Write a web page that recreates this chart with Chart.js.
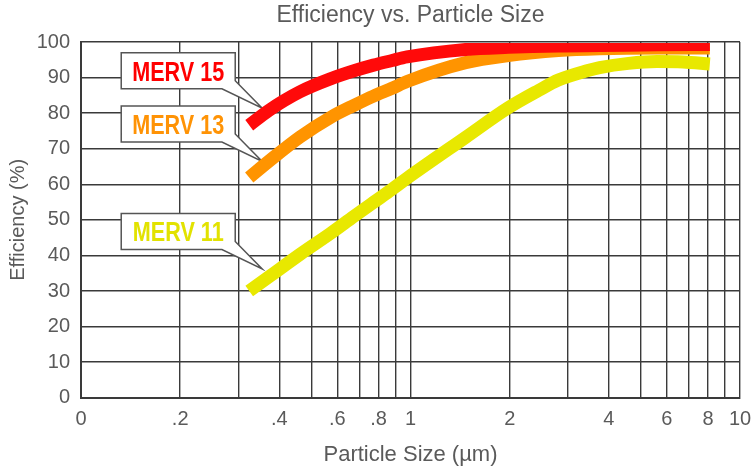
<!DOCTYPE html>
<html>
<head>
<meta charset="utf-8">
<script src="https://cdn.jsdelivr.net/npm/chart.js@4.4.1/dist/chart.umd.min.js"></script>
<style>
  html, body { margin: 0; padding: 0; background: #ffffff; }
  #wrap { width: 753px; height: 470px; position: relative; }
</style>
</head>
<body>
<div id="wrap"><canvas id="chart" width="753" height="470"></canvas></div>
<script>
// ---- data ----
const chartTitle = 'Efficiency vs. Particle Size';
const xAxisTitle = 'Particle Size (µm)';
const yAxisTitle = 'Efficiency (%)';
const seriesNames = ['MERV 15', 'MERV 13', 'MERV 11'];

const sizesMerv15 = [0.324, 0.372, 0.462, 0.574, 0.674, 0.772, 0.879, 0.976, 1.47, 1.98, 2.81, 3.75, 5.6, 8.1];
const effMerv15   = [76.6, 80.8, 86.0, 89.7, 91.9, 93.5, 94.8, 95.8, 97.9, 98.5, 98.9, 99.0, 99.2, 99.3];

const sizesMerv13 = [0.324, 0.372, 0.462, 0.574, 0.674, 0.772, 0.879, 0.976, 1.47, 1.98, 2.81, 3.75, 5.6, 8.1];
const effMerv13   = [61.9, 66.5, 73.3, 78.9, 82.2, 84.8, 87.0, 88.9, 94.2, 96.2, 97.6, 98.1, 98.3, 98.3];

const sizesMerv11 = [0.324, 0.372, 0.462, 0.574, 0.674, 0.772, 0.879, 0.976, 1.47, 1.98, 2.45, 2.81, 3.43, 3.75, 4.59, 5.6, 6.71, 8.1];
const effMerv11   = [30.0, 34.0, 40.3, 46.3, 51.0, 54.9, 58.6, 61.7, 73.2, 81.5, 86.4, 89.3, 91.9, 92.8, 94.0, 94.5, 94.4, 93.8];

const xTickValues = [0.1, 0.2, 0.3, 0.4, 0.5, 0.6, 0.7, 0.8, 0.9, 1, 2, 3, 4, 5, 6, 7, 8, 9, 10];
const xTickLabels = ['0', '.2', '', '.4', '', '.6', '', '.8', '', '1', '2', '', '4', '', '6', '', '8', '', '10'];
const yTickValues = [0, 10, 20, 30, 40, 50, 60, 70, 80, 90, 100];

// ---- styles ----
const lineColors = ['#ff0a0a', '#ff9400', '#e8e800'];
const labelColors = ['#ff0000', '#ff9305', '#e2e200'];
const textGray = '#5a5a5a';
const gridColor = '#3a3a3a';
const FONT = '"Liberation Sans", Arial, Helvetica, sans-serif';

function toPoints(xs, ys) { return xs.map((x, i) => ({ x: x, y: ys[i] })); }

const seriesData = [
  toPoints(sizesMerv15, effMerv15),
  toPoints(sizesMerv13, effMerv13),
  toPoints(sizesMerv11, effMerv11)
];

// callout boxes (offsets relative to the start of each curve)
const callouts = [
  { series: 0, dx: 13, dy: -17 },
  { series: 1, dx: 13, dy: -16 },
  { series: 2, dx: 13, dy: -22 }
];

const calloutPlugin = {
  id: 'callouts',
  beforeDatasetsDraw(chart) {
    const ctx = chart.ctx;
    callouts.forEach(c => {
      const meta = chart.getDatasetMeta(c.series);
      const p0 = meta.data[0];
      const tipX = p0.x + c.dx, tipY = p0.y + c.dy;
      const right = tipX - 27, left = right - 114;
      const bottom = tipY - 19.5, top = bottom - 36;
      ctx.save();
      ctx.beginPath();
      ctx.moveTo(left, top);
      ctx.lineTo(right, top);
      ctx.lineTo(right, bottom - 8);
      ctx.lineTo(tipX, tipY);
      ctx.lineTo(right - 13.3, bottom);
      ctx.lineTo(left, bottom);
      ctx.closePath();
      ctx.fillStyle = '#ffffff';
      ctx.fill();
      ctx.lineWidth = 1.5;
      ctx.strokeStyle = '#555555';
      ctx.lineJoin = 'miter';
      ctx.stroke();
      ctx.translate((left + right) / 2, (top + bottom) / 2 + 10);
      ctx.scale(0.8, 1);
      ctx.font = 'bold 27px ' + FONT;
      ctx.textAlign = 'center';
      ctx.textBaseline = 'alphabetic';
      ctx.fillStyle = labelColors[c.series];
      ctx.fillText(seriesNames[c.series], 0, 0);
      ctx.restore();
    });
  }
};

const chart = new Chart(document.getElementById('chart'), {
  type: 'line',
  data: {
    datasets: seriesNames.map((name, i) => ({
      label: name,
      data: seriesData[i],
      borderColor: lineColors[i],
      backgroundColor: lineColors[i],
      borderWidth: 13,
      borderCapStyle: 'butt',
      borderJoinStyle: 'round',
      pointRadius: 0,
      pointHoverRadius: 0,
      cubicInterpolationMode: 'monotone',
      fill: false,
      clip: { left: 8, top: -1, right: 8, bottom: 8 }
    }))
  },
  options: {
    responsive: false,
    animation: false,
    devicePixelRatio: 1,
    layout: { padding: { top: 0, right: 13, bottom: 0, left: 0 } },
    plugins: {
      legend: { display: false },
      tooltip: { enabled: false },
      title: {
        display: true,
        text: chartTitle,
        fullSize: false,
        color: textGray,
        font: { family: FONT, size: 23, weight: 'normal' },
        padding: { top: 2, bottom: 12.4 }
      }
    },
    scales: {
      x: {
        type: 'logarithmic',
        min: 0.1,
        max: 10,
        afterBuildTicks(scale) { scale.ticks = xTickValues.map(v => ({ value: v })); },
        afterFit(scale) { scale.height = 72.3; scale.paddingLeft = 0; scale.paddingRight = 0; },
        ticks: {
          autoSkip: false,
          maxRotation: 0,
          minRotation: 0,
          color: textGray,
          font: { family: FONT, size: 20 },
          padding: 10,
          callback(value) {
            const i = xTickValues.findIndex(v => Math.abs(v - value) < 1e-9);
            return i >= 0 ? xTickLabels[i] : '';
          }
        },
        grid: { color: gridColor, lineWidth: 1.4, drawTicks: false },
        border: { display: true, color: gridColor, width: 2 },
        title: {
          display: true,
          text: xAxisTitle,
          color: textGray,
          font: { family: FONT, size: 22 },
          padding: { top: 0, bottom: 2 }
        }
      },
      y: {
        type: 'linear',
        min: 0,
        max: 100,
        afterBuildTicks(scale) { scale.ticks = yTickValues.map(v => ({ value: v })); },
        afterFit(scale) { scale.width = 81; scale.paddingTop = 0; scale.paddingBottom = 0; },
        ticks: {
          color: textGray,
          font: { family: FONT, size: 20 },
          padding: 11
        },
        grid: { color: gridColor, lineWidth: 1.4, drawTicks: false },
        border: { display: true, color: gridColor, width: 2 },
        title: {
          display: true,
          text: yAxisTitle,
          color: textGray,
          font: { family: FONT, size: 20 },
          padding: { top: 6, bottom: 0 }
        }
      }
    }
  },
  plugins: [calloutPlugin]
});
</script>
</body>
</html>
